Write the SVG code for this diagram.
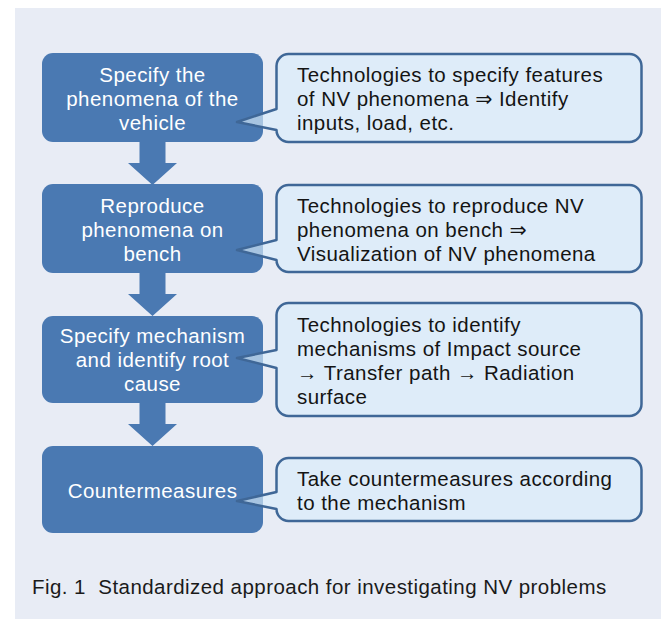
<svg xmlns="http://www.w3.org/2000/svg" width="661" height="619" viewBox="0 0 661 619">
  <style>
    .step { fill: #4a79b2; }
    .step-text { fill: #ffffff; font-family: "Liberation Sans", Arial, sans-serif; font-size: 20.5px; letter-spacing: 0.45px; text-anchor: middle; }
    .note { fill: #d9ecfb; fill-opacity: 0.65; stroke: #3f6797; stroke-width: 2.5; stroke-linejoin: round; }
    .note-text { fill: #141414; font-family: "Liberation Sans", Arial, "DejaVu Sans", sans-serif; font-size: 20.5px; letter-spacing: 0.45px; }
    .flow { fill: #4a79b2; }
    .caption { fill: #1a1a1a; font-family: "Liberation Sans", Arial, sans-serif; font-size: 20.5px; letter-spacing: 0.45px; white-space: pre; }
  </style>

  <!-- panel background -->
  <rect x="15" y="8" width="646" height="611" fill="#e8ecf5"/>

  <!-- connectors: block arrows between the steps -->
  <g id="connectors">
    <polygon class="flow" points="139.5,141 165.5,141 165.5,163 177,163 152.5,185 128,163 139.5,163"/>
    <polygon class="flow" points="139.5,272 165.5,272 165.5,294 177,294 152.5,316 128,294 139.5,294"/>
    <polygon class="flow" points="139.5,402 165.5,402 165.5,424 177,424 152.5,446 128,424 139.5,424"/>
  </g>

  <!-- step 1 -->
  <g id="step1">
    <rect class="step" x="42" y="53" width="221" height="89" rx="11"/>
    <text class="step-text" x="152.5" y="82">Specify the</text>
    <text class="step-text" x="152.5" y="106">phenomena of the</text>
    <text class="step-text" x="152.5" y="130">vehicle</text>
  </g>
  <g id="note1">
    <path class="note" d="M276.5,66 A12,12 0 0 1 288.5,54 H629.5 A12,12 0 0 1 641.5,66 V130 A12,12 0 0 1 629.5,142 H288.5 A12,12 0 0 1 276.5,130 L237,122 L276.5,109 Z"/>
    <text class="note-text" x="297" y="82">Technologies to specify features</text>
    <text class="note-text" x="297" y="106">of NV phenomena ⇒ Identify</text>
    <text class="note-text" x="297" y="130">inputs, load, etc.</text>
  </g>

  <!-- step 2 -->
  <g id="step2">
    <rect class="step" x="42" y="184" width="221" height="89" rx="11"/>
    <text class="step-text" x="152.5" y="213">Reproduce</text>
    <text class="step-text" x="152.5" y="237">phenomena on</text>
    <text class="step-text" x="152.5" y="261">bench</text>
  </g>
  <g id="note2">
    <path class="note" d="M276.5,197 A12,12 0 0 1 288.5,185 H629.5 A12,12 0 0 1 641.5,197 V260 A12,12 0 0 1 629.5,272 H288.5 A12,12 0 0 1 276.5,260 L237,250 L276.5,240 Z"/>
    <text class="note-text" x="297" y="213">Technologies to reproduce NV</text>
    <text class="note-text" x="297" y="237">phenomena on bench ⇒</text>
    <text class="note-text" x="297" y="261">Visualization of NV phenomena</text>
  </g>

  <!-- step 3 -->
  <g id="step3">
    <rect class="step" x="42" y="316" width="221" height="87" rx="11"/>
    <text class="step-text" x="152.5" y="343">Specify mechanism</text>
    <text class="step-text" x="152.5" y="367">and identify root</text>
    <text class="step-text" x="152.5" y="391">cause</text>
  </g>
  <g id="note3">
    <path class="note" d="M276.5,315 A12,12 0 0 1 288.5,303 H629.5 A12,12 0 0 1 641.5,315 V404 A12,12 0 0 1 629.5,416 H288.5 A12,12 0 0 1 276.5,404 V368 L237,358 L276.5,350 Z"/>
    <text class="note-text" x="297" y="332">Technologies to identify</text>
    <text class="note-text" x="297" y="356">mechanisms of Impact source</text>
    <text class="note-text" x="297" y="380">→ Transfer path → Radiation</text>
    <text class="note-text" x="297" y="404">surface</text>
  </g>

  <!-- step 4 -->
  <g id="step4">
    <rect class="step" x="42" y="446" width="221" height="87" rx="11"/>
    <text class="step-text" x="152.5" y="498">Countermeasures</text>
  </g>
  <g id="note4">
    <path class="note" d="M276.5,470 A12,12 0 0 1 288.5,458 H629.5 A12,12 0 0 1 641.5,470 V509 A12,12 0 0 1 629.5,521 H288.5 A12,12 0 0 1 276.5,509 L237,501 L276.5,492 Z"/>
    <text class="note-text" x="297" y="486">Take countermeasures according</text>
    <text class="note-text" x="297" y="510">to the mechanism</text>
  </g>

  <text class="caption" x="32" y="594" xml:space="preserve">Fig. 1  Standardized approach for investigating NV problems</text>
</svg>
